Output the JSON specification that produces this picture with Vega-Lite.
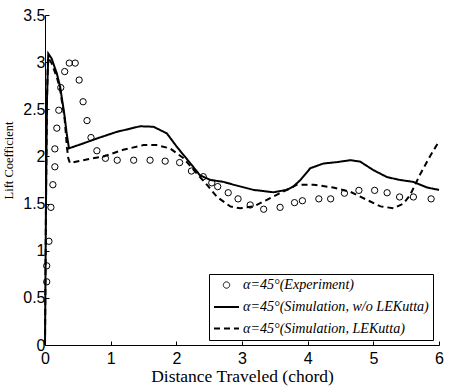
{
  "$schema": "https://vega.github.io/schema/vega-lite/v6.json",
  "width": 394,
  "height": 330,
  "autosize": {"type": "none"},
  "padding": {"left": 45, "top": 15, "right": 10, "bottom": 42},
  "background": "white",
  "config": {
    "view": {"stroke": null},
    "axis": {
      "grid": false,
      "domainColor": "black",
      "domainWidth": 1,
      "tickColor": "black",
      "tickSize": -4,
      "labelFont": "Liberation Sans",
      "labelFontSize": 16,
      "labelColor": "black",
      "labelFlush": false,
      "labelOverlap": false,
      "titleFont": "Liberation Serif",
      "titleFontWeight": "normal",
      "titleColor": "black"
    },
    "legend": {
      "title": null,
      "orient": "none",
      "legendX": 164,
      "legendY": 259,
      "strokeColor": "black",
      "fillColor": "white",
      "cornerRadius": 0,
      "padding": 4,
      "rowPadding": 0.5,
      "symbolSize": 625,
      "symbolStrokeWidth": 2,
      "symbolStrokeColor": "black",
      "symbolFillColor": "transparent",
      "labelFont": "Liberation Serif",
      "labelFontSize": 14.1,
      "labelFontStyle": "italic",
      "labelColor": "black",
      "labelOffset": 3,
      "labelLimit": 400
    }
  },
  "datasets": {
    "exp": [
      {"series": "α=45°(Experiment)", "x": 0.026, "y": 0.67},
      {"series": "α=45°(Experiment)", "x": 0.026, "y": 0.84},
      {"series": "α=45°(Experiment)", "x": 0.06, "y": 1.10},
      {"series": "α=45°(Experiment)", "x": 0.09, "y": 1.46},
      {"series": "α=45°(Experiment)", "x": 0.12, "y": 1.70},
      {"series": "α=45°(Experiment)", "x": 0.15, "y": 1.89},
      {"series": "α=45°(Experiment)", "x": 0.15, "y": 2.08},
      {"series": "α=45°(Experiment)", "x": 0.18, "y": 2.30},
      {"series": "α=45°(Experiment)", "x": 0.21, "y": 2.49},
      {"series": "α=45°(Experiment)", "x": 0.24, "y": 2.73},
      {"series": "α=45°(Experiment)", "x": 0.30, "y": 2.90},
      {"series": "α=45°(Experiment)", "x": 0.37, "y": 2.99},
      {"series": "α=45°(Experiment)", "x": 0.46, "y": 2.99},
      {"series": "α=45°(Experiment)", "x": 0.52, "y": 2.81},
      {"series": "α=45°(Experiment)", "x": 0.58, "y": 2.58},
      {"series": "α=45°(Experiment)", "x": 0.64, "y": 2.38},
      {"series": "α=45°(Experiment)", "x": 0.70, "y": 2.20},
      {"series": "α=45°(Experiment)", "x": 0.79, "y": 2.06},
      {"series": "α=45°(Experiment)", "x": 0.92, "y": 1.98},
      {"series": "α=45°(Experiment)", "x": 1.10, "y": 1.96},
      {"series": "α=45°(Experiment)", "x": 1.35, "y": 1.96},
      {"series": "α=45°(Experiment)", "x": 1.60, "y": 1.96},
      {"series": "α=45°(Experiment)", "x": 1.83, "y": 1.95},
      {"series": "α=45°(Experiment)", "x": 2.05, "y": 1.935},
      {"series": "α=45°(Experiment)", "x": 2.23, "y": 1.845},
      {"series": "α=45°(Experiment)", "x": 2.41, "y": 1.785},
      {"series": "α=45°(Experiment)", "x": 2.54, "y": 1.72},
      {"series": "α=45°(Experiment)", "x": 2.63, "y": 1.68},
      {"series": "α=45°(Experiment)", "x": 2.79, "y": 1.615},
      {"series": "α=45°(Experiment)", "x": 2.94, "y": 1.55},
      {"series": "α=45°(Experiment)", "x": 3.125, "y": 1.485},
      {"series": "α=45°(Experiment)", "x": 3.33, "y": 1.44},
      {"series": "α=45°(Experiment)", "x": 3.58, "y": 1.46},
      {"series": "α=45°(Experiment)", "x": 3.80, "y": 1.51},
      {"series": "α=45°(Experiment)", "x": 3.92, "y": 1.53},
      {"series": "α=45°(Experiment)", "x": 4.17, "y": 1.55},
      {"series": "α=45°(Experiment)", "x": 4.35, "y": 1.55},
      {"series": "α=45°(Experiment)", "x": 4.56, "y": 1.61},
      {"series": "α=45°(Experiment)", "x": 4.78, "y": 1.64},
      {"series": "α=45°(Experiment)", "x": 5.02, "y": 1.64},
      {"series": "α=45°(Experiment)", "x": 5.21, "y": 1.615},
      {"series": "α=45°(Experiment)", "x": 5.40, "y": 1.57},
      {"series": "α=45°(Experiment)", "x": 5.61, "y": 1.57},
      {"series": "α=45°(Experiment)", "x": 5.88, "y": 1.55}
    ],
    "sim": [
      {"series": "α=45°(Simulation, w/o LEKutta)", "x": 0, "y": 0},
      {"series": "α=45°(Simulation, w/o LEKutta)", "x": 0.015, "y": 1.5},
      {"series": "α=45°(Simulation, w/o LEKutta)", "x": 0.03, "y": 2.6},
      {"series": "α=45°(Simulation, w/o LEKutta)", "x": 0.05, "y": 3.09},
      {"series": "α=45°(Simulation, w/o LEKutta)", "x": 0.10, "y": 3.04},
      {"series": "α=45°(Simulation, w/o LEKutta)", "x": 0.18, "y": 2.88},
      {"series": "α=45°(Simulation, w/o LEKutta)", "x": 0.23, "y": 2.74},
      {"series": "α=45°(Simulation, w/o LEKutta)", "x": 0.27, "y": 2.56},
      {"series": "α=45°(Simulation, w/o LEKutta)", "x": 0.30, "y": 2.42},
      {"series": "α=45°(Simulation, w/o LEKutta)", "x": 0.33, "y": 2.245},
      {"series": "α=45°(Simulation, w/o LEKutta)", "x": 0.365, "y": 2.086},
      {"series": "α=45°(Simulation, w/o LEKutta)", "x": 0.55, "y": 2.13},
      {"series": "α=45°(Simulation, w/o LEKutta)", "x": 0.79, "y": 2.19},
      {"series": "α=45°(Simulation, w/o LEKutta)", "x": 1.09, "y": 2.26},
      {"series": "α=45°(Simulation, w/o LEKutta)", "x": 1.45, "y": 2.32},
      {"series": "α=45°(Simulation, w/o LEKutta)", "x": 1.65, "y": 2.315},
      {"series": "α=45°(Simulation, w/o LEKutta)", "x": 1.855, "y": 2.245},
      {"series": "α=45°(Simulation, w/o LEKutta)", "x": 2.01, "y": 2.10},
      {"series": "α=45°(Simulation, w/o LEKutta)", "x": 2.21, "y": 1.93},
      {"series": "α=45°(Simulation, w/o LEKutta)", "x": 2.36, "y": 1.80},
      {"series": "α=45°(Simulation, w/o LEKutta)", "x": 2.52, "y": 1.75},
      {"series": "α=45°(Simulation, w/o LEKutta)", "x": 2.72, "y": 1.73},
      {"series": "α=45°(Simulation, w/o LEKutta)", "x": 2.87, "y": 1.70},
      {"series": "α=45°(Simulation, w/o LEKutta)", "x": 3.175, "y": 1.645},
      {"series": "α=45°(Simulation, w/o LEKutta)", "x": 3.48, "y": 1.62},
      {"series": "α=45°(Simulation, w/o LEKutta)", "x": 3.68, "y": 1.645},
      {"series": "α=45°(Simulation, w/o LEKutta)", "x": 3.78, "y": 1.68},
      {"series": "α=45°(Simulation, w/o LEKutta)", "x": 3.89, "y": 1.75},
      {"series": "α=45°(Simulation, w/o LEKutta)", "x": 4.04, "y": 1.875},
      {"series": "α=45°(Simulation, w/o LEKutta)", "x": 4.24, "y": 1.925},
      {"series": "α=45°(Simulation, w/o LEKutta)", "x": 4.45, "y": 1.94},
      {"series": "α=45°(Simulation, w/o LEKutta)", "x": 4.65, "y": 1.96},
      {"series": "α=45°(Simulation, w/o LEKutta)", "x": 4.80, "y": 1.945},
      {"series": "α=45°(Simulation, w/o LEKutta)", "x": 5.00, "y": 1.855},
      {"series": "α=45°(Simulation, w/o LEKutta)", "x": 5.21, "y": 1.78},
      {"series": "α=45°(Simulation, w/o LEKutta)", "x": 5.41, "y": 1.75},
      {"series": "α=45°(Simulation, w/o LEKutta)", "x": 5.61, "y": 1.73},
      {"series": "α=45°(Simulation, w/o LEKutta)", "x": 5.82, "y": 1.67},
      {"series": "α=45°(Simulation, w/o LEKutta)", "x": 6.0, "y": 1.645},
      {"series": "α=45°(Simulation, LEKutta)", "x": 0, "y": 0},
      {"series": "α=45°(Simulation, LEKutta)", "x": 0.015, "y": 1.5},
      {"series": "α=45°(Simulation, LEKutta)", "x": 0.03, "y": 2.6},
      {"series": "α=45°(Simulation, LEKutta)", "x": 0.045, "y": 3.05},
      {"series": "α=45°(Simulation, LEKutta)", "x": 0.10, "y": 2.99},
      {"series": "α=45°(Simulation, LEKutta)", "x": 0.18, "y": 2.84},
      {"series": "α=45°(Simulation, LEKutta)", "x": 0.23, "y": 2.71},
      {"series": "α=45°(Simulation, LEKutta)", "x": 0.30, "y": 2.39},
      {"series": "α=45°(Simulation, LEKutta)", "x": 0.335, "y": 2.09},
      {"series": "α=45°(Simulation, LEKutta)", "x": 0.355, "y": 1.98},
      {"series": "α=45°(Simulation, LEKutta)", "x": 0.38, "y": 1.93},
      {"series": "α=45°(Simulation, LEKutta)", "x": 0.58, "y": 1.96},
      {"series": "α=45°(Simulation, LEKutta)", "x": 0.89, "y": 2.00},
      {"series": "α=45°(Simulation, LEKutta)", "x": 1.19, "y": 2.07},
      {"series": "α=45°(Simulation, LEKutta)", "x": 1.50, "y": 2.12},
      {"series": "α=45°(Simulation, LEKutta)", "x": 1.70, "y": 2.12},
      {"series": "α=45°(Simulation, LEKutta)", "x": 1.905, "y": 2.085},
      {"series": "α=45°(Simulation, LEKutta)", "x": 2.11, "y": 1.98},
      {"series": "α=45°(Simulation, LEKutta)", "x": 2.31, "y": 1.82},
      {"series": "α=45°(Simulation, LEKutta)", "x": 2.465, "y": 1.70},
      {"series": "α=45°(Simulation, LEKutta)", "x": 2.62, "y": 1.57},
      {"series": "α=45°(Simulation, LEKutta)", "x": 2.82, "y": 1.47},
      {"series": "α=45°(Simulation, LEKutta)", "x": 2.97, "y": 1.45},
      {"series": "α=45°(Simulation, LEKutta)", "x": 3.175, "y": 1.47},
      {"series": "α=45°(Simulation, LEKutta)", "x": 3.38, "y": 1.54},
      {"series": "α=45°(Simulation, LEKutta)", "x": 3.58, "y": 1.61},
      {"series": "α=45°(Simulation, LEKutta)", "x": 3.84, "y": 1.70},
      {"series": "α=45°(Simulation, LEKutta)", "x": 4.09, "y": 1.70},
      {"series": "α=45°(Simulation, LEKutta)", "x": 4.39, "y": 1.67},
      {"series": "α=45°(Simulation, LEKutta)", "x": 4.65, "y": 1.625},
      {"series": "α=45°(Simulation, LEKutta)", "x": 4.90, "y": 1.54},
      {"series": "α=45°(Simulation, LEKutta)", "x": 5.11, "y": 1.47},
      {"series": "α=45°(Simulation, LEKutta)", "x": 5.31, "y": 1.45},
      {"series": "α=45°(Simulation, LEKutta)", "x": 5.46, "y": 1.50},
      {"series": "α=45°(Simulation, LEKutta)", "x": 5.56, "y": 1.59},
      {"series": "α=45°(Simulation, LEKutta)", "x": 5.72, "y": 1.82},
      {"series": "α=45°(Simulation, LEKutta)", "x": 5.87, "y": 2.01},
      {"series": "α=45°(Simulation, LEKutta)", "x": 6.0, "y": 2.16}
    ]
  },
  "encoding": {
    "x": {
      "field": "x", "type": "quantitative",
      "scale": {"domain": [0, 6], "nice": false},
      "axis": {
        "title": "Distance Traveled (chord)",
        "values": [0, 1, 2, 3, 4, 5, 6],
        "format": "d",
        "labelPadding": 9,
        "titleFontSize": 17.5,
        "titleBaseline": "alphabetic",
        "titleY": 36.5
      }
    },
    "y": {
      "field": "y", "type": "quantitative",
      "scale": {"domain": [0, 3.5], "nice": false, "zero": false},
      "axis": {
        "title": "Lift Coefficient",
        "values": [0, 0.5, 1, 1.5, 2, 2.5, 3, 3.5],
        "format": ".1~f",
        "labelPadding": 4,
        "titleFontSize": 12.5,
        "titleBaseline": "alphabetic",
        "titleAngle": -90,
        "titleX": -33,
        "titleY": 145
      }
    },
    "color": {
      "field": "series", "type": "nominal",
      "scale": {
        "domain": ["α=45°(Experiment)", "α=45°(Simulation, w/o LEKutta)", "α=45°(Simulation, LEKutta)"],
        "range": ["black", "black", "black"]
      },
      "legend": {"title": null}
    }
  },
  "layer": [
    {
      "data": {"name": "sim"},
      "mark": {"type": "line"},
      "encoding": {
        "strokeDash": {
          "field": "series", "type": "nominal",
          "scale": {
            "domain": ["α=45°(Experiment)", "α=45°(Simulation, w/o LEKutta)", "α=45°(Simulation, LEKutta)"],
            "range": [[1, 0], [1, 0], [6, 4]]
          },
          "legend": {"title": null}
        },
        "strokeWidth": {
          "field": "series", "type": "nominal",
          "scale": {
            "type": "ordinal",
            "domain": ["α=45°(Experiment)", "α=45°(Simulation, w/o LEKutta)", "α=45°(Simulation, LEKutta)"],
            "range": [1, 2, 2]
          },
          "legend": {"title": null}
        }
      }
    },
    {
      "data": {"name": "exp"},
      "mark": {"type": "point", "filled": false, "strokeWidth": 1, "opacity": 1},
      "encoding": {
        "shape": {
          "field": "series", "type": "nominal",
          "scale": {
            "domain": ["α=45°(Experiment)", "α=45°(Simulation, w/o LEKutta)", "α=45°(Simulation, LEKutta)"],
            "range": ["circle", "stroke", "stroke"]
          },
          "legend": {"title": null}
        },
        "size": {
          "field": "series", "type": "nominal",
          "scale": {
            "type": "ordinal",
            "domain": ["α=45°(Experiment)", "α=45°(Simulation, w/o LEKutta)", "α=45°(Simulation, LEKutta)"],
            "range": [40, 625, 625]
          },
          "legend": {"title": null}
        }
      }
    }
  ]
}
